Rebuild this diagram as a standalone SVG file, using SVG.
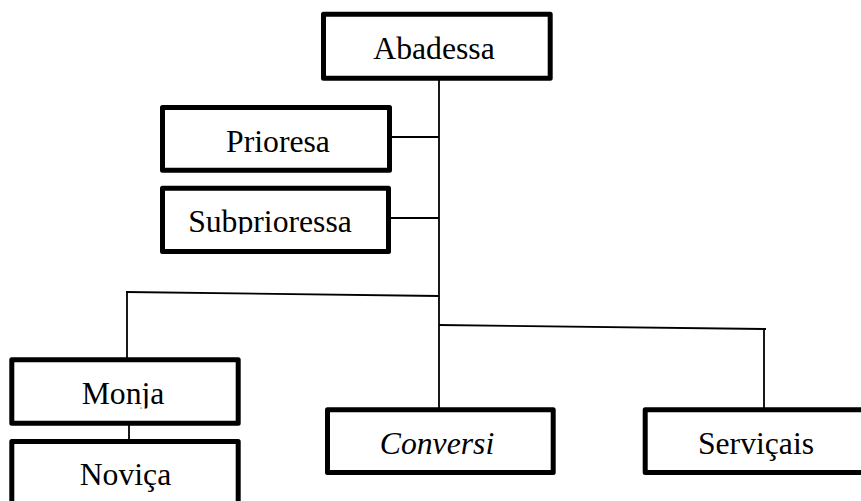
<svg xmlns="http://www.w3.org/2000/svg" width="861" height="501" viewBox="0 0 861 501">
<style>
.box{fill:#fff;stroke:#000;stroke-width:5;stroke-linejoin:round}
.lbl{font-family:"Liberation Serif","Times New Roman",serif;font-size:31.7px;fill:#000;text-anchor:middle}
.ln{stroke:#000;stroke-width:1.8;fill:none}
</style>
<defs>
<clipPath id="clipSub"><rect x="160" y="186" width="232" height="48"/></clipPath>
<clipPath id="clipMonja"><rect x="9" y="357" width="232" height="51.5"/></clipPath>
</defs>
<rect width="861" height="501" fill="#fff"/>
<g id="connectors">
<line class="ln" x1="439" y1="80" x2="439" y2="408"/>
<line class="ln" x1="391" y1="137" x2="439" y2="137"/>
<line class="ln" x1="391" y1="218" x2="439" y2="218"/>
<line class="ln" x1="126" y1="292" x2="439" y2="296"/>
<line class="ln" x1="127" y1="292" x2="127" y2="358"/>
<line class="ln" x1="439" y1="325" x2="766" y2="329"/>
<line class="ln" x1="764" y1="329" x2="764" y2="408"/>
<line class="ln" x1="129" y1="425" x2="129" y2="440"/>
</g>
<g id="abadessa">
<rect class="box" x="323.5" y="14.2" width="226.7" height="64"/>
<text class="lbl" x="434" y="59">Abadessa</text>
</g>
<g id="prioresa">
<rect class="box" x="162.5" y="107.5" width="227" height="62.7"/>
<text class="lbl" x="278" y="151.7">Prioresa</text>
</g>
<g id="subprioressa">
<rect class="box" x="162.5" y="188.2" width="226" height="63.3"/>
<text class="lbl" x="270" y="231.7" clip-path="url(#clipSub)">Subprioressa</text>
</g>
<g id="monja">
<rect class="box" x="11.8" y="359.8" width="226.4" height="63.4"/>
<text class="lbl" x="123" y="404" clip-path="url(#clipMonja)">Monja</text>
</g>
<g id="novica">
<rect class="box" x="11.8" y="441.5" width="226.4" height="70"/>
<text class="lbl" x="125.5" y="485">Noviça</text>
</g>
<g id="conversi">
<rect class="box" x="327.5" y="409.8" width="225.7" height="62.7"/>
<text class="lbl" x="437" y="454" font-style="italic">Conversi</text>
</g>
<g id="servicais">
<rect class="box" x="645.2" y="409.8" width="230" height="62.7"/>
<text class="lbl" x="756" y="454">Serviçais</text>
</g>
</svg>
